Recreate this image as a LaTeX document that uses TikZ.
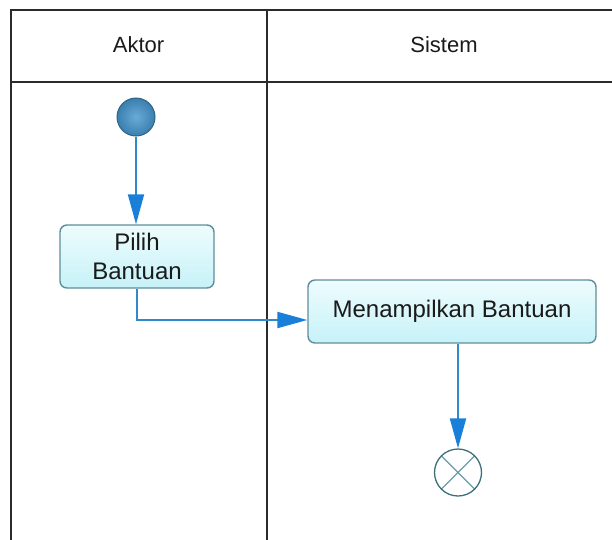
\documentclass[tikz,border=0pt]{standalone}
\usepackage{fontspec}
\setmainfont{Liberation Sans}
\usetikzlibrary{arrows.meta}

\definecolor{laneline}{HTML}{2B2B2B}
\definecolor{textdark}{HTML}{1A1A1A}
\definecolor{boxedge}{HTML}{5F8E9A}
\definecolor{boxtop}{HTML}{EEFCFD}
\definecolor{boxbottom}{HTML}{C6F2F8}
\definecolor{linkblue}{HTML}{2E8BC8}
\definecolor{tipblue}{HTML}{1A7FD8}
\definecolor{startinner}{HTML}{6AAAD6}
\definecolor{startouter}{HTML}{3A7FB0}
\definecolor{startedge}{HTML}{2F6482}
\definecolor{endedge}{HTML}{3E6F7A}
\definecolor{endcross}{HTML}{6A9CA8}

\tikzset{
  lane/.style={draw=laneline, line width=2pt},
  lanehead/.style={font=\fontsize{22}{26}\selectfont, text=textdark},
  action/.style={draw=boxedge, line width=1.4pt, rounded corners=7pt,
    top color=boxtop, bottom color=boxbottom, text=textdark,
    font=\fontsize{24}{29}\selectfont, align=center, inner sep=0pt},
  initial/.style={circle, draw=startedge, line width=1pt, minimum size=38pt,
    inner sep=0pt, inner color=startinner, outer color=startouter},
  final/.style={circle, draw=endedge, line width=1.3pt, minimum size=47pt,
    inner sep=0pt, fill=white,
    path picture={
      \draw[endcross, line width=1.2pt]
        (path picture bounding box.north west) -- (path picture bounding box.south east)
        (path picture bounding box.north east) -- (path picture bounding box.south west);
    }},
  flow/.style={draw=linkblue, line width=2pt,
    -{Triangle[length=30pt, width=16pt, color=tipblue]}},
}

\begin{document}
\begin{tikzpicture}[x=1pt, y=-1pt]
  \useasboundingbox (0,0) rectangle (612,539);
  \clip (0,0) rectangle (612,539);

  % swimlane frame
  \draw[lane] (10.5,560) -- (10.5,9.5) -- (640,9.5);
  \draw[lane] (10.5,82) -- (640,82);
  \draw[lane] (266.5,9.5) -- (266.5,560);

  % lane titles
  \node[lanehead] (aktor) at (138.5,45) {Aktor};
  \node[lanehead] (sistem) at (444,45) {Sistem};

  % activity nodes
  \node[initial] (start) at (136,117) {};
  \node[action, minimum width=154pt, minimum height=63pt] (pilih) at (137,256.5)
    {Pilih\\Bantuan};
  \node[action, minimum width=288pt, minimum height=63pt] (tampil) at (452,311.5)
    {Menampilkan Bantuan};
  \node[final] (end) at (458,472.5) {};

  % control flows
  \draw[flow] (start) -- (start |- pilih.north);
  \draw[flow] (pilih.south) |- ([yshift=-8.5pt]tampil.west);
  \draw[flow] (tampil.south -| end) -- (end);
\end{tikzpicture}
\end{document}
